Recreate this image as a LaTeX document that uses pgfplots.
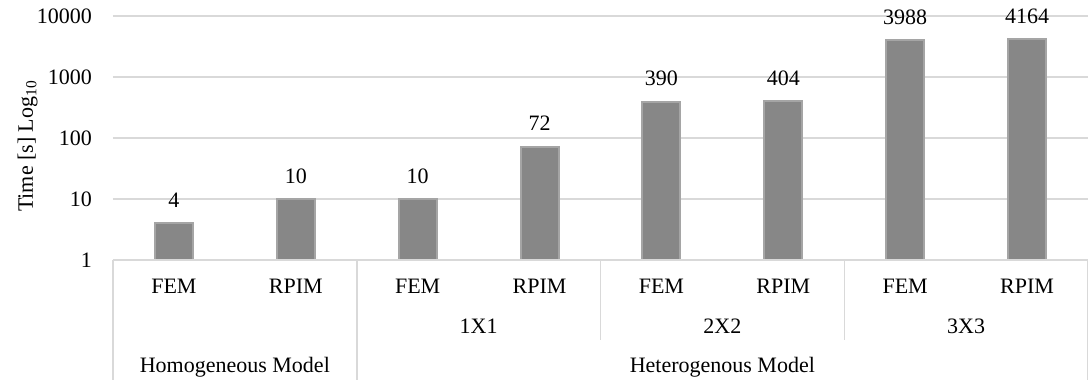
\documentclass[border=0pt]{standalone}
\usepackage{fontspec}
\setmainfont{Liberation Serif}
\usepackage{pgfplots}
\pgfplotsset{compat=1.18}
\definecolor{barfill}{HTML}{878787}
\definecolor{barline}{HTML}{A5A5A5}
\definecolor{gridc}{HTML}{D9D9D9}
\begin{document}
\begin{tikzpicture}[font=\fontsize{11}{13}\selectfont]
\path[use as bounding box] (-56.5pt,-64pt) rectangle (487.5pt,130pt);
\begin{axis}[
  scale only axis, width=487.5pt, height=122pt,
  at={(0,0)}, anchor=south west,
  ymode=log, ymin=1, ymax=10000, xmin=-0.5, xmax=7.5,
  clip=false,
  axis line style={draw=none},
  ymajorgrids, grid style={gridc, line width=0.75pt},
  major tick length=0pt, minor tick length=0pt, yminorticks=false, minor tick num=0,
  ytick={1,10,100,1000,10000}, yticklabels={1,10,100,1000,10000},
  yticklabel style={xshift=-7pt},
  /pgf/number format/assume math mode=true,
  xtick={0,1,2,3,4,5,6,7},
  xticklabels={FEM,RPIM,FEM,RPIM,FEM,RPIM,FEM,RPIM},
  xticklabel style={anchor=base, inner sep=0pt, yshift=-16.5pt},
  ybar, bar width=19pt,
  nodes near coords, point meta=explicit symbolic,
  every node near coord/.append style={anchor=base, inner sep=0pt, yshift=8pt, font=\fontsize{11}{13}\selectfont},
]
\addplot[fill=barfill, draw=barline, line width=1pt] coordinates {
  (0,4) [4]
  (1,10) [10]
  (2,10) [10]
  (3,72) [72]
  (4,390) [390]
  (5,404) [404]
  (6,3988) [3988]
  (7,4164) [4164]
};
\end{axis}
% category axis lines
\draw[gridc, line width=0.75pt] (0,0) -- (487.5pt,0);
\draw[gridc, line width=0.75pt] (0,0) -- (0,-60pt);
\draw[gridc, line width=0.75pt] (121.875pt,0) -- (121.875pt,-60pt);
\draw[gridc, line width=0.75pt] (243.75pt,0) -- (243.75pt,-40pt);
\draw[gridc, line width=0.75pt] (365.625pt,0) -- (365.625pt,-40pt);
\draw[gridc, line width=0.75pt] (487.5pt,0) -- (487.5pt,-60pt);
% group labels
\node[anchor=base, inner sep=0pt] at (182.8125pt,-36.5pt) {1X1};
\node[anchor=base, inner sep=0pt] at (304.6875pt,-36.5pt) {2X2};
\node[anchor=base, inner sep=0pt] at (426.5625pt,-36.5pt) {3X3};
\node[anchor=base, inner sep=0pt] at (60.9375pt,-56pt) {Homogeneous Model};
\node[anchor=base, inner sep=0pt] at (304.6875pt,-56pt) {Heterogenous Model};
% y label
\node[rotate=90, anchor=base, inner sep=0pt] at (-40pt,57pt) {Time [s] Log\textsubscript{10}};
\end{tikzpicture}
\end{document}
